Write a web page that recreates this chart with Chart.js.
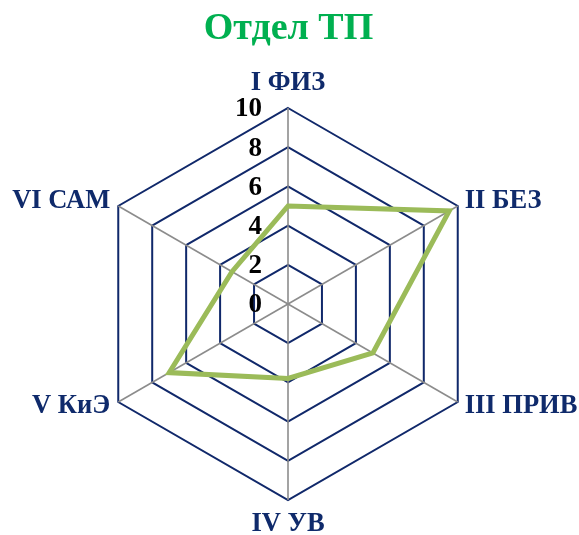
<!DOCTYPE html>
<html><head><meta charset="utf-8">
<script src="https://cdn.jsdelivr.net/npm/chart.js@4.4.0/dist/chart.umd.min.js"></script>
<style>html,body{margin:0;padding:0;background:#fff;} #wrap{width:579px;height:535px;}</style>
</head><body><div id="wrap"><canvas id="c" width="579" height="535"></canvas></div>
<script>
const titleText = 'Отдел ТП';
const categories = ['I ФИЗ', 'II БЕЗ', 'III ПРИВ', 'IV УВ', 'V КиЭ', 'VI САМ'];
const values = [5, 9.5, 5, 3.8, 7, 3.3];
const tickValues = [0, 2, 4, 6, 8, 10];

const labelPlugin = {
  id: 'customLabels',
  afterDraw(chart) {
    const s = chart.scales.r;
    const ctx = chart.ctx;
    ctx.save();
    ctx.font = 'bold 27px "Liberation Serif"';
    ctx.fillStyle = '#000000';
    ctx.textAlign = 'right';
    ctx.textBaseline = 'middle';
    s.ticks.forEach(t => {
      const d = s.getDistanceFromCenterForValue(t.value);
      ctx.fillText(t.label !== undefined ? t.label : String(t.value), s.xCenter - 26, s.yCenter - d + 1.5);
    });
    ctx.font = 'bold 26.5px "Liberation Serif"';
    ctx.fillStyle = '#0f2a6b';
    chart.data.labels.forEach((lab, i) => {
      const p = s.getPointPosition(i, s.drawingArea);
      const dx = p.x - s.xCenter, dy = p.y - s.yCenter;
      let x = p.x, y = p.y;
      if (Math.abs(dx) < 2) {
        ctx.textAlign = 'center';
        y += dy < 0 ? -25 : 24;
      } else {
        ctx.textAlign = dx > 0 ? 'left' : 'right';
        x += dx > 0 ? 7 : -8;
        y += dy < 0 ? -4.7 : 4.5;
      }
      ctx.fillText(lab, x, y);
    });
    ctx.restore();
  }
};

new Chart(document.getElementById('c'), {
  type: 'radar',
  data: {
    labels: categories,
    datasets: [{
      data: values,
      borderColor: '#9bbb59',
      borderWidth: 5,
      borderJoinStyle: 'miter',
      fill: false,
      pointRadius: 0,
      pointHoverRadius: 0,
      tension: 0
    }]
  },
  options: {
    responsive: false,
    animation: false,
    layout: { padding: { left: 0, right: 2, top: 0, bottom: 34 } },
    plugins: {
      legend: { display: false },
      tooltip: { enabled: false },
      title: {
        display: true,
        text: titleText,
        color: '#00b050',
        font: { family: 'Liberation Serif', size: 38, weight: 'bold', lineHeight: 1.2 },
        padding: { top: 6, bottom: 56.4 }
      }
    },
    scales: {
      r: {
        min: tickValues[0],
        max: tickValues[tickValues.length - 1],
        ticks: { stepSize: tickValues[1] - tickValues[0], display: false },
        pointLabels: { display: false },
        grid: { color: '#10286a', lineWidth: 2, circular: false },
        angleLines: { color: '#8c8c8c', lineWidth: 1.6 }
      }
    }
  },
  plugins: [labelPlugin]
});
</script>
</body></html>
